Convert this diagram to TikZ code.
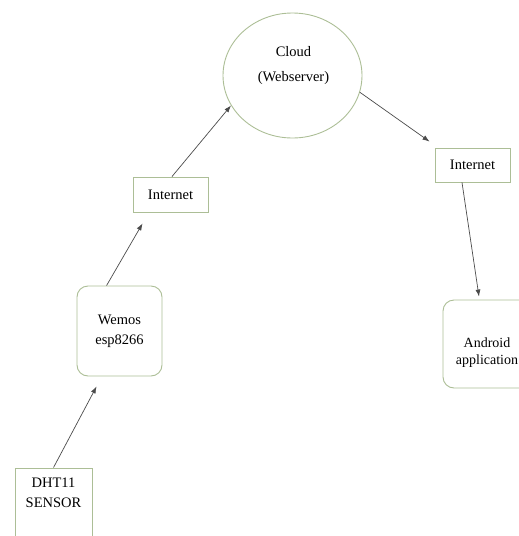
\documentclass[tikz,border=0pt]{standalone}
\usepackage{fontspec}
\setmainfont{Liberation Serif}
\usetikzlibrary{arrows.meta,shapes.geometric}
\definecolor{boxgreen}{RGB}{172,190,150}
\definecolor{linegray}{RGB}{75,75,75}
\begin{document}
\begin{tikzpicture}[x=1pt,y=-1pt,
        box/.style={draw=boxgreen,line width=0.9pt,fill=white,inner sep=0pt,align=center},
        roundbox/.style={box,rounded corners=11pt},
        txt/.style={align=center,inner sep=0pt},
        link/.style={draw=linegray,line width=0.7pt,-{Latex[length=7pt,width=5pt]}},
        every node/.style={font=\fontsize{14.5}{20}\selectfont}]
        \useasboundingbox (0,0) rectangle (519,536);
        \node[box,minimum width=77pt,minimum height=72pt] (dht) at (53.5,504) {};
        \node[txt] (dhtlbl) at (53.5,493) {DHT11\\SENSOR};
        \node[roundbox,minimum width=85pt,minimum height=90pt] (wemos) at (119.5,331) {Wemos\\esp8266};
        \node[box,minimum width=75pt,minimum height=35pt] (inet1) at (170.5,194.5) {Internet};
        \node[ellipse,draw=boxgreen,line width=0.9pt,minimum width=139pt,minimum height=125pt,inner sep=0pt] (cloud) at (292.5,75.5) {};
        \node[txt,font=\fontsize{14.5}{25}\selectfont] (cloudlbl) at (293.5,66) {Cloud\\(Webserver)};
        \node[box,minimum width=75pt,minimum height=34pt] (inet2) at (472.5,165) {Internet};
        \node[roundbox,minimum width=88pt,minimum height=88pt] (android) at (487,344) {};
        \node[txt,font=\fontsize{14}{17}\selectfont] (androidlbl) at (487,353) {Android\\application};
        \draw[link] (dht.north) -- ([xshift=20pt,yshift=-10pt]wemos.south west);
        \draw[link] ([xshift=30pt]wemos.north west) -- ([xshift=10pt,yshift=-11pt]inet1.south west);
        \draw[link] ([xshift=1.5pt]inet1.north) -- (cloud.206);
        \draw[link] (cloud.-14) -- ([xshift=-5pt,yshift=6pt]inet2.north west);
        \draw[link] ([xshift=-10.5pt]inet2.south) -- ([xshift=-8pt,yshift=3pt]android.north);
    \end{tikzpicture}
\end{document}
